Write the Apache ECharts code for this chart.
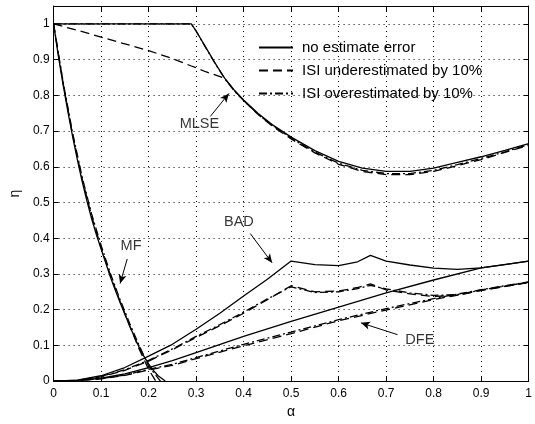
<!DOCTYPE html>
<html>
<head>
<meta charset="utf-8">
<script src="https://cdn.jsdelivr.net/npm/echarts@6/dist/echarts.min.js"></script>
<style>html,body{margin:0;padding:0;background:#fff}#c{width:535px;height:424px}</style>
</head>
<body>
<div id="c"></div>
<script>
// ---- data ----
const xTicks = [0,0.1,0.2,0.3,0.4,0.5,0.6,0.7,0.8,0.9,1];
const yTicks = [0,0.1,0.2,0.3,0.4,0.5,0.6,0.7,0.8,0.9,1];
const seriesNames = ['no estimate error','ISI underestimated by 10%','ISI overestimated by 10%'];

const alphaMLSE = [0,0.05,0.1,0.15,0.2,0.25,0.29,0.3,0.32,0.34,0.36,0.38,0.4,0.43,0.46,0.5,0.55,0.6,0.65,0.7,0.75,0.8,0.85,0.9,0.95,1.0];
const mlseSolid = [1,1,1,1,1,1,1,0.98,0.935,0.89,0.848,0.815,0.787,0.75,0.718,0.683,0.645,0.615,0.596,0.587,0.587,0.596,0.612,0.628,0.646,0.665];
const mlseUnder = [1,0.982,0.963,0.944,0.925,0.903,0.882,0.877,0.866,0.857,0.848,0.814,0.785,0.747,0.714,0.678,0.639,0.607,0.587,0.578,0.578,0.587,0.603,0.62,0.64,0.66];
const mlseOver  = [1,1,1,1,1,1,1,0.98,0.934,0.889,0.847,0.813,0.785,0.748,0.716,0.68,0.641,0.61,0.59,0.581,0.581,0.59,0.606,0.623,0.642,0.662];

const alphaMF = [0,0.01,0.02,0.03,0.04,0.05,0.06,0.07,0.08,0.09,0.1,0.11,0.12,0.13,0.14,0.15,0.16,0.17,0.18,0.19,0.2,0.21,0.22,0.235];
const mfSolid = [1,0.91,0.83,0.755,0.685,0.62,0.56,0.505,0.455,0.41,0.37,0.33,0.29,0.254,0.22,0.187,0.155,0.124,0.095,0.07,0.048,0.03,0.015,0];
const alphaMFUnder = [0,0.02,0.04,0.06,0.08,0.1,0.12,0.14,0.16,0.18,0.2,0.215];
const mfUnder = [1,0.835,0.69,0.567,0.462,0.375,0.295,0.223,0.155,0.09,0.033,0];
const alphaMFOver = [0,0.02,0.04,0.06,0.08,0.1,0.12,0.14,0.16,0.18,0.2,0.225];
const mfOver = [1,0.838,0.695,0.572,0.468,0.38,0.3,0.228,0.162,0.1,0.042,0];

const alphaBAD = [0,0.05,0.1,0.15,0.2,0.25,0.3,0.35,0.4,0.45,0.5,0.55,0.6,0.64,0.667,0.7,0.75,0.8,0.85,0.9,0.95,1.0];
const badSolid = [0,0.003,0.015,0.038,0.07,0.103,0.145,0.19,0.238,0.285,0.336,0.326,0.323,0.334,0.352,0.336,0.325,0.316,0.313,0.317,0.326,0.336];
const badUnder = [0,0.002,0.012,0.03,0.056,0.088,0.122,0.155,0.19,0.228,0.267,0.25,0.252,0.262,0.272,0.255,0.244,0.237,0.24,0.254,0.265,0.276];
const badOver  = [0,0.002,0.013,0.032,0.058,0.09,0.125,0.158,0.193,0.23,0.264,0.248,0.25,0.259,0.268,0.258,0.247,0.24,0.242,0.255,0.266,0.277];

const alphaDFE = [0,0.05,0.1,0.15,0.2,0.25,0.3,0.4,0.5,0.6,0.7,0.8,0.9,1.0];
const dfeSolid = [0,0.002,0.008,0.02,0.038,0.057,0.08,0.125,0.167,0.207,0.247,0.283,0.317,0.336];
const dfeUnder = [0,0.0015,0.006,0.016,0.031,0.044,0.063,0.099,0.133,0.169,0.199,0.228,0.254,0.276];
const dfeOver  = [0,0.0015,0.0065,0.017,0.033,0.047,0.066,0.103,0.137,0.172,0.203,0.231,0.256,0.278];

// annotations (data coordinates): label, text position, arrow start, arrow end
const annLabels = ['MLSE','MF','BAD','DFE'];
const annText   = [[0.307,0.719],[0.163,0.378],[0.39,0.446],[0.771,0.116]];
const annFrom   = [[0.33,0.741],[0.155,0.342],[0.414,0.413],[0.724,0.13]];
const annTo     = [[0.369,0.805],[0.14,0.273],[0.46,0.331],[0.647,0.163]];

// ---- chart ----
const FONT = '"Liberation Sans", Arial, Helvetica, sans-serif';
const styles = [
  {type:'solid', width:1.3},
  {type:[9,5], width:1.3},
  {type:[8,3,2,3], width:1.3}
];
function pairs(xs, ys){ return xs.map((x,i)=>[x, ys[i]]); }
const curves = [
  [alphaMLSE, mlseSolid, 0],[alphaMLSE, mlseUnder, 1],[alphaMLSE, mlseOver, 2],
  [alphaMF, mfSolid, 0],[alphaMFUnder, mfUnder, 1],[alphaMFOver, mfOver, 2],
  [alphaBAD, badSolid, 0],[alphaBAD, badUnder, 1],[alphaBAD, badOver, 2],
  [alphaDFE, dfeSolid, 0],[alphaDFE, dfeUnder, 1],[alphaDFE, dfeOver, 2]
];
const series = curves.map(c => ({
  type:'line', name: seriesNames[c[2]], data: pairs(c[0], c[1]),
  showSymbol:false, symbol:'none', smooth:false, animation:false,
  lineStyle: Object.assign({color:'#000'}, styles[c[2]]),
  itemStyle:{color:'#000'}
}));
series.push({
  type:'scatter', name:'ann', data: annText.map((p,i)=>({value:p, name:annLabels[i]})),
  symbolSize:0, animation:false, silent:true,
  label:{show:true, position:'inside', formatter:p=>p.name, color:'#000', fontSize:14.5, fontFamily:FONT}
});
series.push({
  type:'line', name:'arrows', data:[], animation:false,
  markLine:{
    silent:true, symbol:['none','arrow'], symbolSize:[6,9], animation:false,
    lineStyle:{color:'#000', type:'solid', width:1},
    label:{show:false},
    data: annFrom.map((f,i)=>[{coord:f},{coord:annTo[i]}])
  }
});
const fmt = v => { const r = Math.round(v*10)/10; return (xTicks.includes(r) && Math.abs(v-r)<1e-6) ? String(r) : ''; };
const fmtY = v => { const r = Math.round(v*10)/10; return (yTicks.includes(r) && Math.abs(v-r)<1e-6) ? String(r) : ''; };
const gridLine = {show:true, lineStyle:{color:'#000', type:[1,4], width:1}};
const chart = echarts.init(document.getElementById('c'), null, {renderer:'canvas'});
chart.setOption({
  backgroundColor:'#fff',
  animation:false,
  textStyle:{fontFamily:FONT},
  grid:{left:49, right:1, top:6, bottom:37, show:false},
  legend:{
    show:true, orient:'vertical', left:258, top:40, padding:0, itemWidth:34, itemHeight:14, itemGap:8,
    data: seriesNames, selectedMode:false,
    itemStyle:{opacity:0},
    textStyle:{fontSize:15, lineHeight:14, color:'#000', fontFamily:FONT, padding:[0,0,0,4]}
  },
  xAxis:[
    {type:'value', min:0, max:1, interval:0.1, position:'bottom',
     name:'α', nameLocation:'middle', nameGap:21, nameTextStyle:{fontSize:14, color:'#000', fontFamily:FONT},
     axisLine:{show:true, onZero:false, lineStyle:{color:'#000', width:1}},
     axisTick:{show:true, inside:true, length:5, lineStyle:{color:'#000'}},
     axisLabel:{show:true, formatter:fmt, fontSize:12, color:'#000', margin:7, fontFamily:FONT},
     splitLine:gridLine},
    {type:'value', min:0, max:1, interval:0.1, position:'top',
     axisLine:{show:true, onZero:false, lineStyle:{color:'#000', width:1}},
     axisTick:{show:true, inside:true, length:5, lineStyle:{color:'#000'}},
     axisLabel:{show:false}, splitLine:{show:false}}
  ],
  yAxis:[
    {type:'value', min:0, max:1.05, interval:0.1, position:'left',
     name:'η', nameLocation:'middle', nameGap:25, nameTextStyle:{fontSize:14, color:'#000', fontFamily:FONT},
     axisLine:{show:true, onZero:false, lineStyle:{color:'#000', width:1}},
     axisTick:{show:true, inside:true, length:5, lineStyle:{color:'#000'}},
     axisLabel:{show:true, formatter:fmtY, fontSize:12, color:'#000', margin:4, fontFamily:FONT, showMaxLabel:false},
     splitLine:gridLine},
    {type:'value', min:0, max:1.05, interval:0.1, position:'right',
     axisLine:{show:true, onZero:false, lineStyle:{color:'#000', width:1}},
     axisTick:{show:true, inside:true, length:5, lineStyle:{color:'#000'}},
     axisLabel:{show:false}, splitLine:{show:false}}
  ],
  series: series
});
</script>
</body>
</html>
